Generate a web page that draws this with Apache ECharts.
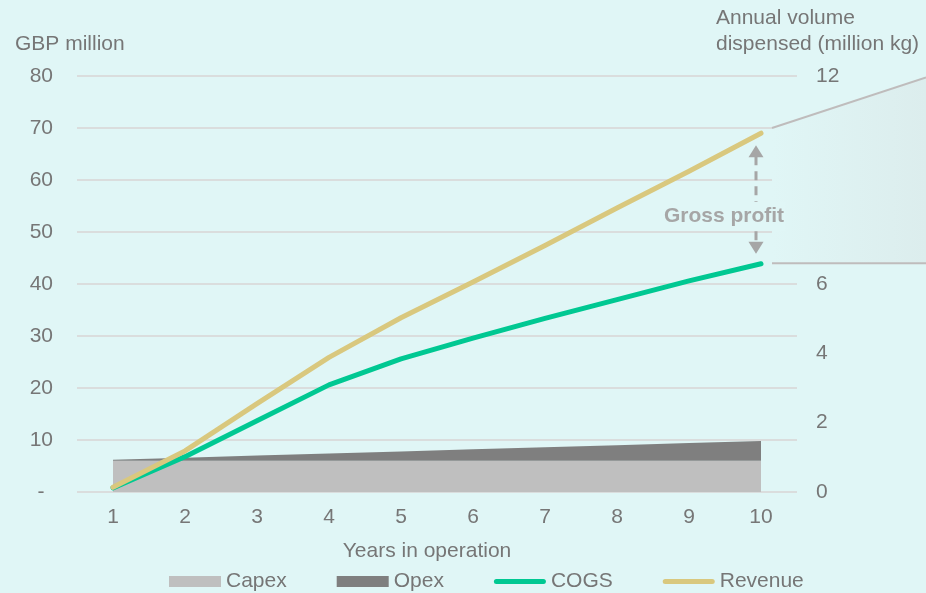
<!DOCTYPE html>
<html>
<head>
<meta charset="utf-8">
<script src="https://cdn.jsdelivr.net/npm/echarts@6/dist/echarts.min.js"></script>
<style>
  html, body { margin: 0; padding: 0; background: #e0f6f6; }
  #chart { width: 926px; height: 593px; }
</style>
</head>
<body>
<div id="chart"></div>
<script>
// Years in operation
const years = ['1', '2', '3', '4', '5', '6', '7', '8', '9', '10'];
// GBP million
const capex   = [6, 6, 6, 6, 6, 6, 6, 6, 6, 6];
const opex    = [0.2, 0.6, 1.0, 1.4, 1.8, 2.2, 2.6, 3.0, 3.4, 3.8];
const cogs    = [0.8, 6.8, 13.7, 20.6, 25.6, 29.6, 33.4, 37.0, 40.6, 43.9];
const revenue = [0.9, 7.9, 17.0, 25.9, 33.5, 40.4, 47.4, 54.6, 61.7, 69.0];
// Axis ranges
const leftAxis  = { min: 0, max: 80, interval: 10 };
const rightAxis = { min: 0, max: 12, interval: 2 };
// Values marking the zoomed gross profit wedge
const wedgeTop = 70, wedgeTopEnd = 80, wedgeBottom = 44, labelLevel = 53;

const BG = '#e0f6f6';
const TXT = '#767676';
const FONT = '"Liberation Sans", Arial, sans-serif';
const FS = 21;

const lineIcon = 'path://M2.5,0H49.5A2.5,2.5,0,0,1,49.5,5H2.5A2.5,2.5,0,0,1,2.5,0Z';

const chart = echarts.init(document.getElementById('chart'), null, { renderer: 'canvas' });

chart.setOption({
  backgroundColor: BG,
  animation: false,
  textStyle: { fontFamily: FONT },
  grid: { left: 77, right: 129, top: 76, bottom: 101 },
  legend: {
    left: 164, top: 566,
    itemWidth: 52, itemHeight: 11, itemGap: 50,
    textStyle: { color: TXT, fontSize: FS, fontFamily: FONT },
    data: [
      { name: 'Capex', icon: 'rect' },
      { name: 'Opex', icon: 'rect' },
      { name: 'COGS', icon: lineIcon },
      { name: 'Revenue', icon: lineIcon }
    ]
  },
  xAxis: {
    type: 'category', data: years, boundaryGap: true,
    axisLine: { show: false }, axisTick: { show: false },
    axisLabel: { color: TXT, fontSize: FS, fontFamily: FONT, margin: 15 }
  },
  yAxis: [
    {
      type: 'value', min: leftAxis.min, max: leftAxis.max, interval: leftAxis.interval,
      axisLine: { show: false }, axisTick: { show: false },
      splitLine: { lineStyle: { color: '#dadddd', width: 2 } },
      axisLabel: {
        color: TXT, fontSize: FS, fontFamily: FONT, margin: 24,
        formatter: v => v === 0 ? '-\u2009\u2009' : String(v)
      }
    },
    {
      type: 'value', min: rightAxis.min, max: rightAxis.max, interval: rightAxis.interval,
      position: 'right',
      axisLine: { show: false }, axisTick: { show: false }, splitLine: { show: false },
      axisLabel: { color: TXT, fontSize: FS, fontFamily: FONT, margin: 19 }
    }
  ],
  series: [
    {
      name: 'Capex', type: 'line', stack: 'cost', data: capex,
      symbol: 'none', color: '#bfbfbf',
      lineStyle: { width: 0 }, areaStyle: { color: '#bfbfbf', opacity: 1 },
      itemStyle: { color: '#bfbfbf' }, z: 1
    },
    {
      name: 'Opex', type: 'line', stack: 'cost', data: opex,
      symbol: 'none', color: '#7f7f7f',
      lineStyle: { width: 0 }, areaStyle: { color: '#7f7f7f', opacity: 1 },
      itemStyle: { color: '#7f7f7f' }, z: 1
    },
    {
      name: 'COGS', type: 'line', data: cogs, symbol: 'none', color: '#00c892',
      lineStyle: { width: 5, color: '#00c892', cap: 'round', join: 'round' },
      itemStyle: { color: '#00c892' }, z: 3
    },
    {
      name: 'Revenue', type: 'line', data: revenue, symbol: 'none', color: '#d9c87e',
      lineStyle: { width: 5, color: '#d9c87e', cap: 'round', join: 'round' },
      itemStyle: { color: '#d9c87e' }, z: 4
    }
  ]
});

// Annotations placed from the axis scales
const W = chart.getWidth();
const px = (i, v) => chart.convertToPixel({ xAxisIndex: 0, yAxisIndex: 0 }, [i, v]);
const last = years.length - 1;
const [xEnd, yRev] = px(last, revenue[last]);
const [, yCogs] = px(last, cogs[last]);
const wedgeX = xEnd + 11;
const yTop = px(last, wedgeTop)[1];
const yTopEnd = px(last, wedgeTopEnd)[1] + 1.5;
const yBot = px(last, wedgeBottom)[1];
const arrowX = xEnd - 5;
const tipTop = yRev + 12;
const tipBot = yCogs - 10;
const yLabel = px(last, labelLevel)[1];
const GP = '#a6a6a6';

chart.setOption({
  graphic: [
    // Shaded wedge between the two connector lines
    {
      type: 'polygon', z: 10,
      shape: { points: [[wedgeX, yTop], [W, yTopEnd], [W, yBot], [wedgeX, yBot]] },
      style: {
        fill: new echarts.graphic.LinearGradient(0, 0, 1, 0, [
          { offset: 0, color: BG }, { offset: 1, color: '#dceded' }
        ])
      }
    },
    { type: 'line', z: 11, shape: { x1: wedgeX, y1: yTop, x2: W, y2: yTopEnd },
      style: { stroke: '#bfbcbc', lineWidth: 2 } },
    { type: 'line', z: 11, shape: { x1: wedgeX, y1: yBot, x2: W, y2: yBot },
      style: { stroke: '#bfbcbc', lineWidth: 2 } },
    // Gross profit double arrow
    { type: 'line', z: 12, shape: { x1: arrowX, y1: tipTop + 11, x2: arrowX, y2: tipBot - 11 },
      style: { stroke: GP, lineWidth: 3, lineDash: [9, 6] } },
    { type: 'polygon', z: 12,
      shape: { points: [[arrowX, tipTop], [arrowX - 7.5, tipTop + 12], [arrowX + 7.5, tipTop + 12]] },
      style: { fill: GP } },
    { type: 'polygon', z: 12,
      shape: { points: [[arrowX, tipBot], [arrowX - 7.5, tipBot - 12], [arrowX + 7.5, tipBot - 12]] },
      style: { fill: GP } },
    { type: 'text', z: 13, x: arrowX - 32, y: yLabel,
      style: {
        text: 'Gross profit', fill: GP, font: 'bold ' + FS + 'px ' + FONT,
        align: 'center', verticalAlign: 'middle',
        backgroundColor: BG, padding: [4, 1]
      } },
    // Axis titles
    { type: 'text', z: 13, x: 15, y: 44,
      style: { text: 'GBP million', fill: TXT, font: FS + 'px ' + FONT, verticalAlign: 'middle' } },
    { type: 'text', z: 13, x: 716, y: 5,
      style: { text: 'Annual volume\ndispensed (million kg)', fill: TXT, font: FS + 'px ' + FONT,
               lineHeight: 26, verticalAlign: 'top' } },
    { type: 'text', z: 13, x: 427, y: 551,
      style: { text: 'Years in operation', fill: TXT, font: FS + 'px ' + FONT,
               align: 'center', verticalAlign: 'middle' } }
  ]
});
</script>
</body>
</html>
